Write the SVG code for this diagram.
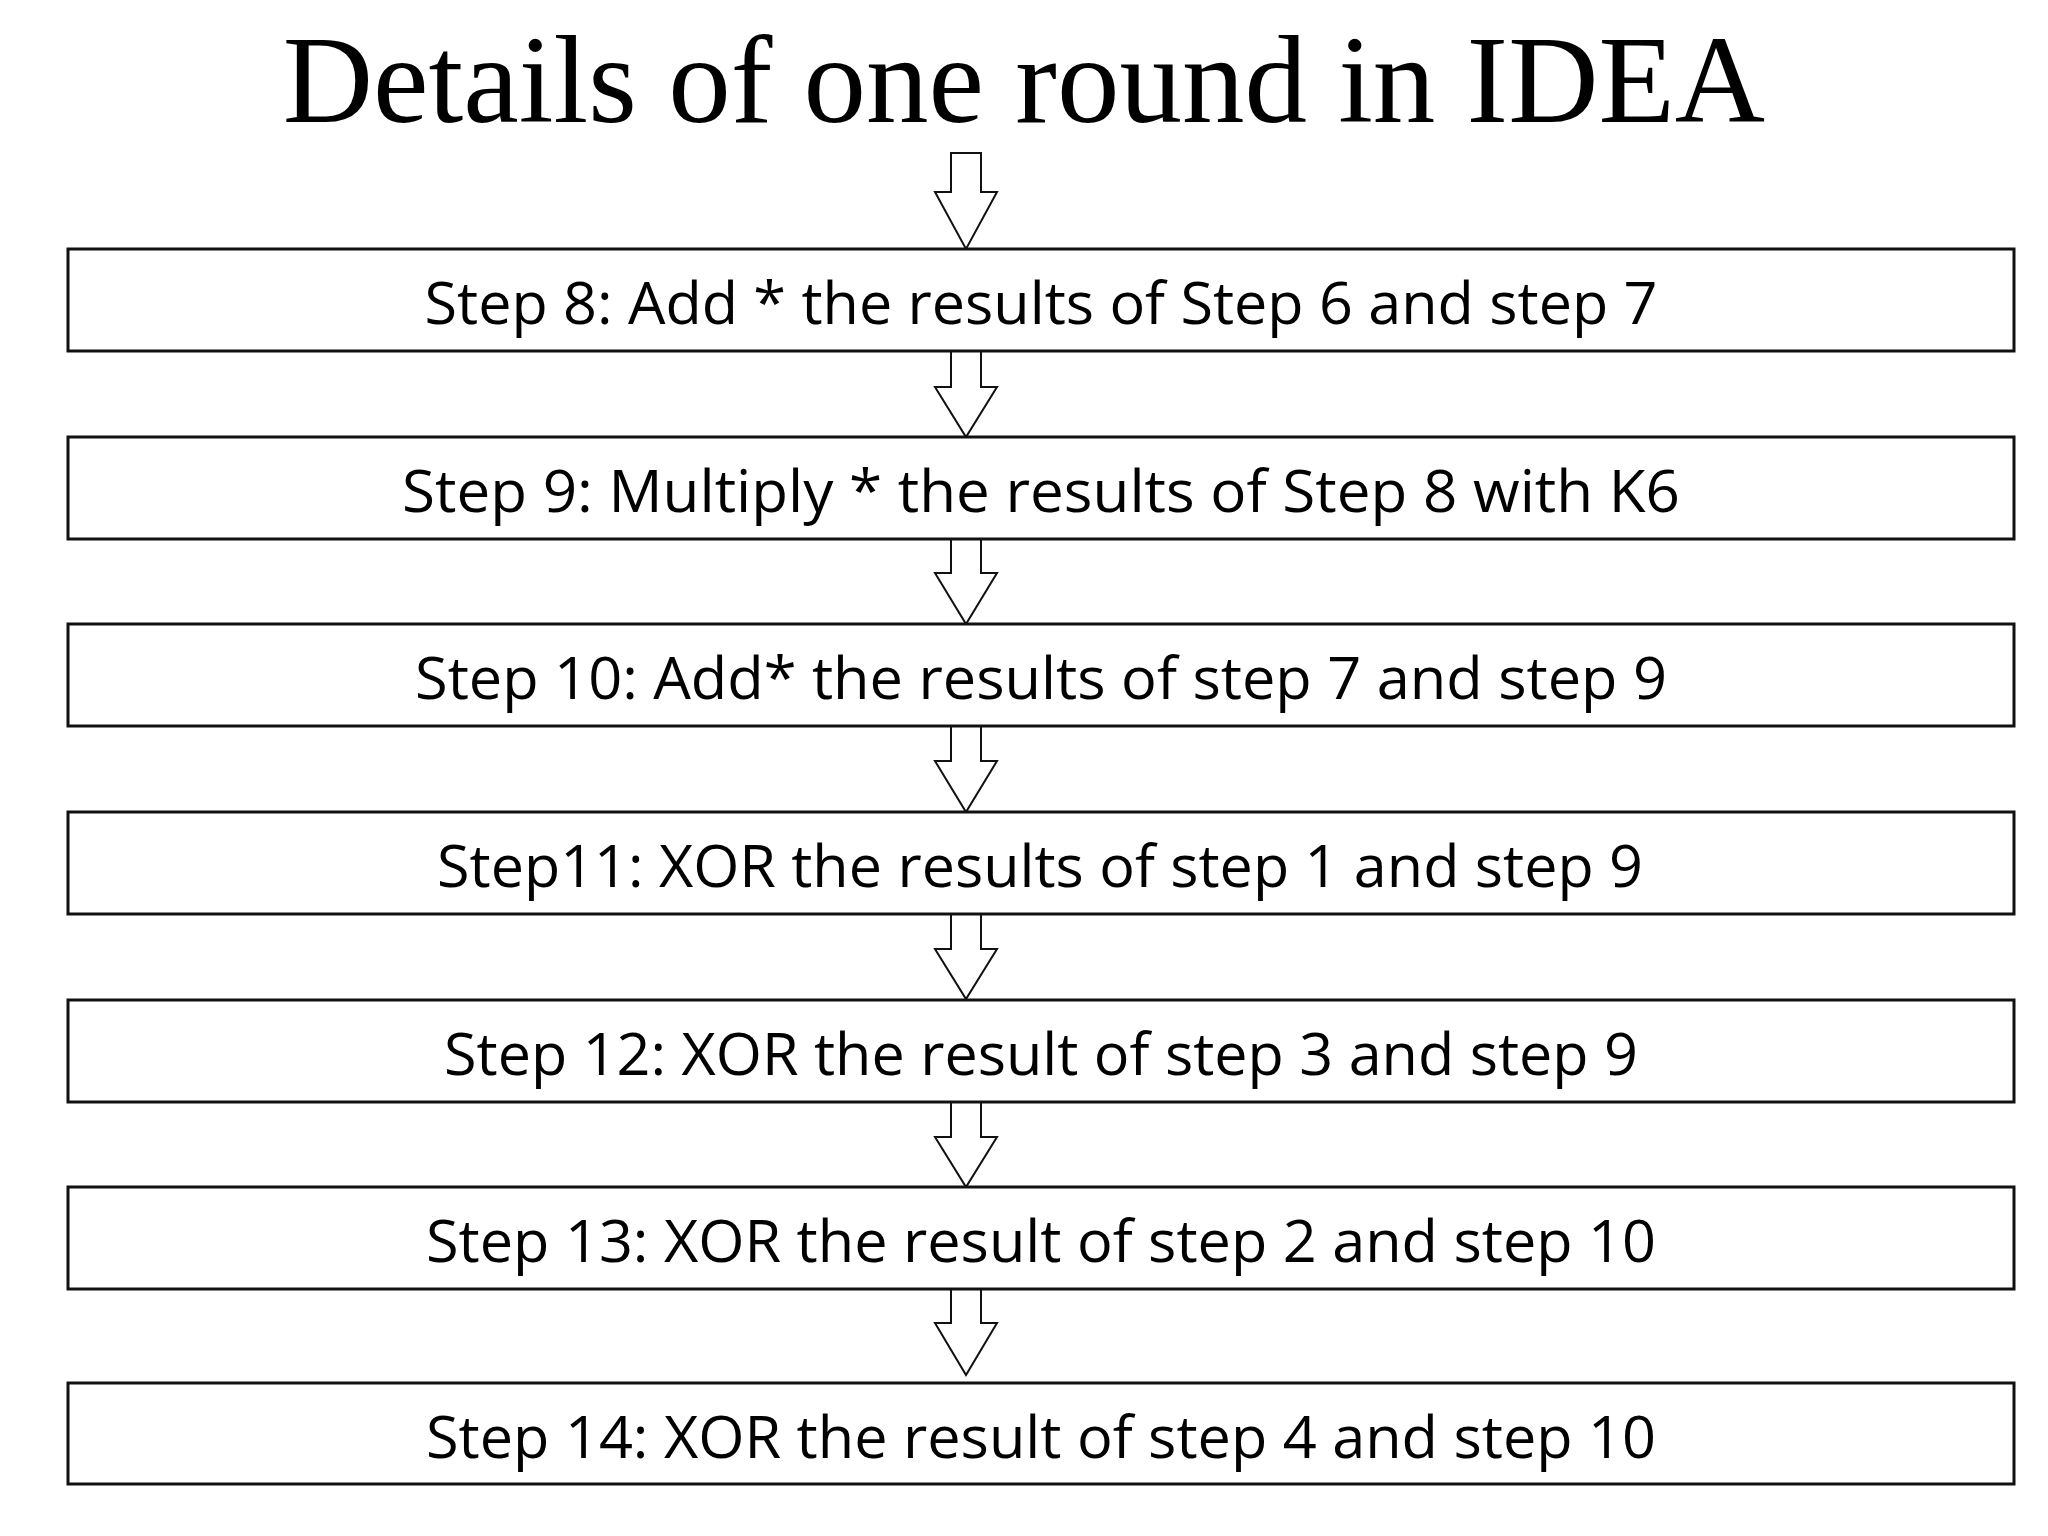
<svg xmlns="http://www.w3.org/2000/svg" width="2048" height="1536" viewBox="0 0 2048 1536">
<style>
.box{fill:#fff;stroke:#111;stroke-width:3}
.arr{fill:#fff;stroke:#111;stroke-width:2;stroke-linejoin:miter}
.lbl{font-family:"Open Sans","Liberation Sans",sans-serif;font-size:58px;fill:#000;text-anchor:middle}
.title{font-family:"Liberation Serif","Times New Roman",serif;font-size:125px;fill:#000;text-anchor:middle}
</style>
<rect width="2048" height="1536" fill="#fff"/>
<text class="title" x="1024" y="122">Details of one round in IDEA</text>
<g id="connectors">
<path class="arr" d="M951,153 H981 V192 H997 L966,249 L935,192 H951 Z"/>
<path class="arr" d="M951,351 H981 V387 H997 L966,437 L935,387 H951 Z"/>
<path class="arr" d="M951,539 H981 V573 H997 L966,624 L935,573 H951 Z"/>
<path class="arr" d="M951,726 H981 V761 H997 L966,812 L935,761 H951 Z"/>
<path class="arr" d="M951,914 H981 V949 H997 L966,999 L935,949 H951 Z"/>
<path class="arr" d="M951,1102 H981 V1137 H997 L966,1187 L935,1137 H951 Z"/>
<path class="arr" d="M951,1289 H981 V1323 H997 L966,1375 L935,1323 H951 Z"/>
</g>
<g id="step8"><rect class="box" x="68" y="249" width="1946" height="102"/><text class="lbl" x="1041" y="324" textLength="1233" lengthAdjust="spacingAndGlyphs">Step 8: Add * the results of Step 6 and step 7</text></g>
<g id="step9"><rect class="box" x="68" y="437" width="1946" height="102"/><text class="lbl" x="1041" y="512" textLength="1278" lengthAdjust="spacingAndGlyphs">Step 9: Multiply * the results of Step 8 with K6</text></g>
<g id="step10"><rect class="box" x="68" y="624" width="1946" height="102"/><text class="lbl" x="1041" y="699" textLength="1252" lengthAdjust="spacingAndGlyphs">Step 10: Add* the results of step 7 and step 9</text></g>
<g id="step11"><rect class="box" x="68" y="812" width="1946" height="102"/><text class="lbl" x="1040" y="887" textLength="1206" lengthAdjust="spacingAndGlyphs">Step11: XOR the results of step 1 and step 9</text></g>
<g id="step12"><rect class="box" x="68" y="1000" width="1946" height="102"/><text class="lbl" x="1041" y="1075" textLength="1194" lengthAdjust="spacingAndGlyphs">Step 12: XOR the result of step 3 and step 9</text></g>
<g id="step13"><rect class="box" x="68" y="1187" width="1946" height="102"/><text class="lbl" x="1041" y="1262" textLength="1230" lengthAdjust="spacingAndGlyphs">Step 13: XOR the result of step 2 and step 10</text></g>
<g id="step14"><rect class="box" x="68" y="1383" width="1946" height="101"/><text class="lbl" x="1041" y="1458" textLength="1230" lengthAdjust="spacingAndGlyphs">Step 14: XOR the result of step 4 and step 10</text></g>
</svg>
